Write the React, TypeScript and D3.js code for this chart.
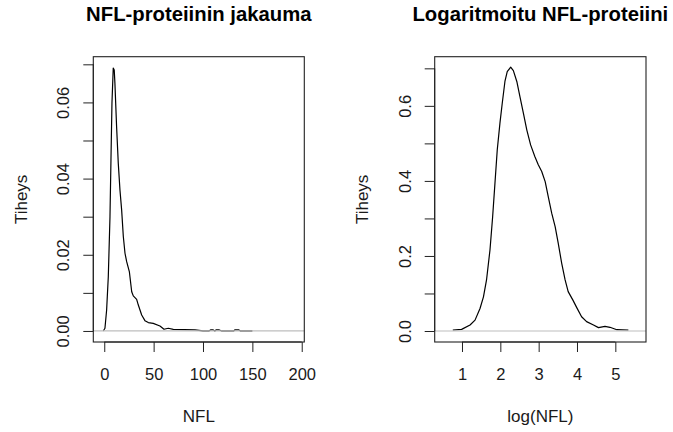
import React, { useRef, useEffect } from "react";
import * as d3 from "d3";

// density of raw NFL
const nflX = [-1, 0.7, 2.4, 4.1, 5.8, 6.8, 7.8, 9.1, 10.1, 10.8, 12.5, 14.2, 15.9, 17.6, 19.3, 21, 22.7, 25.4, 27.8, 29.4, 32.8, 34.5, 37.9, 41.2, 44.6, 49.6, 56.4, 60.5, 64.8, 69.9, 91.9, 100, 106, 108, 110, 112, 113.5, 116, 119, 121, 131, 132.5, 136, 138, 150];
const nflDensity = [0, 0.0007, 0.0055, 0.0143, 0.03, 0.045, 0.0598, 0.069, 0.0685, 0.065, 0.0536, 0.044, 0.037, 0.0318, 0.0248, 0.0204, 0.0182, 0.0156, 0.0103, 0.0092, 0.0083, 0.0068, 0.0042, 0.0027, 0.0022, 0.002, 0.0013, 0.00045, 0.0007, 0.0004, 0.0003, 0, 0, 0.0003, 0.0003, 0, 0.0003, 0.0003, 0, 0, 0, 0.0003, 0.0003, 0, 0];

// density of log(NFL) (right panel)
const logX = [0.76, 0.99, 1.21, 1.34, 1.47, 1.56, 1.64, 1.73, 1.8, 1.86, 1.92, 1.99, 2.05, 2.12, 2.18, 2.27, 2.34, 2.43, 2.51, 2.6, 2.69, 2.79, 2.9, 2.99, 3.08, 3.17, 3.25, 3.34, 3.43, 3.51, 3.6, 3.69, 3.77, 3.89, 3.99, 4.12, 4.25, 4.43, 4.56, 4.73, 4.86, 5.04, 5.34];
const logDensity = [0.0027, 0.0044, 0.016, 0.029, 0.06, 0.091, 0.136, 0.216, 0.305, 0.394, 0.483, 0.554, 0.607, 0.665, 0.691, 0.703, 0.694, 0.665, 0.625, 0.581, 0.536, 0.496, 0.465, 0.443, 0.425, 0.398, 0.358, 0.314, 0.278, 0.234, 0.181, 0.136, 0.105, 0.083, 0.063, 0.038, 0.025, 0.016, 0.009, 0.0125, 0.0099, 0.0035, 0.0027];

const nflXTicks = [0, 50, 100, 150, 200];
const nflYTicks = [0, 0.01, 0.02, 0.03, 0.04, 0.05, 0.06, 0.07];
const logXTicks = [1, 2, 3, 4, 5];
const logYTicks = [0, 0.1, 0.2, 0.3, 0.4, 0.5, 0.6, 0.7];

const FONT = "'Liberation Sans', Arial, Helvetica, sans-serif";
const W = 673;
const H = 432;

function drawPanel(svg, opts) {
  const { left, right, top, bottom, xLim, yLim, xs, ys, xTicks, yTicks, yFmt, labelEvery, title, xlab } = opts;
  const x = d3.scaleLinear().domain(xLim).range([left, right]);
  const y = d3.scaleLinear().domain(yLim).range([bottom, top]);
  const g = svg.append("g");

  // curve first, zero line drawn over it (like plot.density)
  const line = d3.line().x((d) => x(d[0])).y((d) => y(d[1])).curve(d3.curveLinear);
  g.append("path")
    .datum(xs.map((v, i) => [v, ys[i]]))
    .attr("d", line)
    .attr("fill", "none")
    .attr("stroke", "#000")
    .attr("stroke-width", 1.2)
    .attr("stroke-linejoin", "round");

  g.append("line")
    .attr("x1", left).attr("x2", right)
    .attr("y1", y(0)).attr("y2", y(0))
    .attr("stroke", "#bebebe")
    .attr("stroke-width", 1.2);

  g.append("rect")
    .attr("x", left).attr("y", top)
    .attr("width", right - left).attr("height", bottom - top)
    .attr("fill", "none")
    .attr("stroke", "#222")
    .attr("stroke-width", 1.1);

  // x axis
  const xAxis = g.append("g")
    .attr("transform", `translate(0, ${bottom})`)
    .call(d3.axisBottom(x).tickValues(xTicks).tickSize(10).tickSizeOuter(0).tickFormat(d3.format("d")));
  xAxis.select(".domain").attr("d", `M${x(xTicks[0])},0H${x(xTicks[xTicks.length - 1])}`).attr("stroke", "#222");
  xAxis.selectAll(".tick line").attr("stroke", "#222");
  xAxis.selectAll("text")
    .attr("y", 38).attr("dy", 0)
    .attr("font-size", 16.5).attr("font-family", FONT).attr("fill", "#1a1a1a");

  // y axis, labels rotated as in R
  const yAxis = g.append("g")
    .attr("transform", `translate(${left}, 0)`)
    .call(d3.axisLeft(y).tickValues(yTicks).tickSize(10).tickSizeOuter(0)
      .tickFormat((d, i) => (i % labelEvery === 0 ? d3.format(yFmt)(d) : "")));
  yAxis.select(".domain").attr("d", `M0,${y(yTicks[0])}V${y(yTicks[yTicks.length - 1])}`).attr("stroke", "#222");
  yAxis.selectAll(".tick line").attr("stroke", "#222");
  yAxis.selectAll("text")
    .attr("transform", "rotate(-90)")
    .attr("x", 0).attr("y", -24).attr("dy", 0)
    .attr("text-anchor", "middle")
    .attr("font-size", 16.5).attr("font-family", FONT).attr("fill", "#1a1a1a");

  const cx = (left + right) / 2;
  svg.append("text")
    .attr("x", cx).attr("y", 21)
    .attr("text-anchor", "middle")
    .attr("font-family", FONT).attr("font-weight", "bold").attr("font-size", 20.3)
    .attr("fill", "#000")
    .text(title);

  svg.append("text")
    .attr("x", cx).attr("y", 421.5)
    .attr("text-anchor", "middle")
    .attr("font-family", FONT).attr("font-size", 17).attr("fill", "#1a1a1a")
    .text(xlab);

  svg.append("text")
    .attr("transform", `translate(${left - 66.5}, ${(top + bottom) / 2}) rotate(-90)`)
    .attr("text-anchor", "middle")
    .attr("font-family", FONT).attr("font-size", 17).attr("fill", "#1a1a1a")
    .text("Tiheys");
}

export default function App() {
  const svgRef = useRef(null);

  useEffect(() => {
    const svg = d3.select(svgRef.current);
    svg.selectAll("*").remove();
    svg.attr("viewBox", [0, 0, W, H]);

    svg.append("rect").attr("width", W).attr("height", H).attr("fill", "#fff");

    drawPanel(svg, {
      left: 93.3, right: 304.3, top: 56.7, bottom: 342,
      xLim: [-11.1, 202.6], yLim: [-0.0029, 0.072],
      xs: nflX, ys: nflDensity,
      xTicks: nflXTicks, yTicks: nflYTicks, yFmt: ".2f", labelEvery: 2,
      title: "NFL-proteiinin jakauma", xlab: "NFL",
    });

    drawPanel(svg, {
      left: 434.7, right: 646, top: 56.7, bottom: 342,
      xLim: [0.288, 5.8], yLim: [-0.0293, 0.731],
      xs: logX, ys: logDensity,
      xTicks: logXTicks, yTicks: logYTicks, yFmt: ".1f", labelEvery: 2,
      title: "Logaritmoitu NFL-proteiini", xlab: "log(NFL)",
    });
  }, []);

  return (
    <div style={{ position: "absolute", left: 0, top: 0 }}>
      <svg ref={svgRef} width={W} height={H} style={{ display: "block" }}></svg>
    </div>
  );
}
